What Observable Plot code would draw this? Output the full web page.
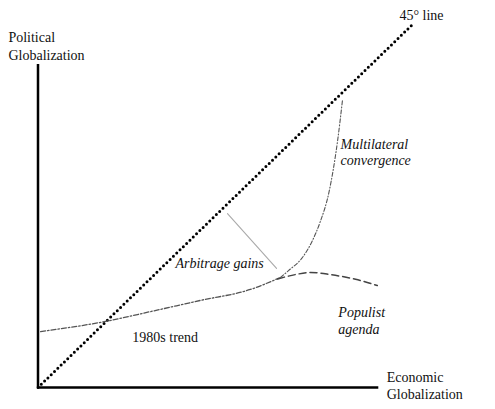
<!DOCTYPE html>
<html>
<head>
<meta charset="utf-8">
<script src="https://cdn.jsdelivr.net/npm/d3@7"></script>
<script src="https://cdn.jsdelivr.net/npm/@observablehq/plot@0.6"></script>
<style>
  html, body { margin: 0; padding: 0; background: #fff; }
  #chart svg { display: block; }
  #chart svg text, #chart svg tspan { font-family: "Liberation Serif", "DejaVu Serif", "Times New Roman", Times, serif !important; }
</style>
</head>
<body>
<div id="chart"></div>
<script>
// Economic globalization (x) vs political globalization (y), schematic units 0..100
const line45X = [0, 100];
const line45Y = [0, 100];

const trendX = [0.7, 18.0, 30.0, 43.4, 56.7, 64.5];
const trendY = [15.4, 18.2, 20.9, 24.0, 27.0, 30.2];

const populistX = [64.0, 68.7, 72.8, 78.1, 84.8, 90.6];
const populistY = [29.9, 31.1, 31.7, 31.1, 29.8, 28.1];

const multiX = [64.75, 66.9, 70.6, 73.3, 75.2, 77.8, 80.0, 81.3];
const multiY = [30.3, 32.2, 35.8, 40.5, 45.2, 54.3, 68.0, 79.1];

const arbitrageX = [50.6, 63.7];
const arbitrageY = [47.9, 32.8];

const axisXEnd = 91;
const axisYEnd = 89;

const labels = [
  {text: "Political\nGlobalization", x: -7.9, y: 94.2, italic: false, lh: 1.29},
  {text: "45° line", x: 96.5, y: 102.8, italic: false, lh: 1.2},
  {text: "Multilateral\nconvergence", x: 80.8, y: 65.0, italic: true, lh: 1.16},
  {text: "Arbitrage gains", x: 36.7, y: 34.4, italic: true, lh: 1.2},
  {text: "Populist\nagenda", x: 80.2, y: 18.6, italic: true, lh: 1.22},
  {text: "1980s trend", x: 25.2, y: 14.0, italic: false, lh: 1.2},
  {text: "Economic\nGlobalization", x: 93.1, y: 0.7, italic: false, lh: 1.22}
];

const pts = (xs, ys) => xs.map((x, i) => ({x, y: ys[i]}));

const serif = "'Liberation Serif', 'DejaVu Serif', 'Times New Roman', serif";

const textMark = (d) => Plot.text([d], {
  x: "x", y: "y", text: "text",
  textAnchor: "start",
  lineHeight: d.lh,
  fontSize: 14,
  fontFamily: serif,
  fontStyle: d.italic ? "italic" : "normal",
  fill: "#111"
});

const chart = Plot.plot({
  width: 495,
  height: 409,
  marginLeft: 37.5,
  marginRight: 83,
  marginTop: 24,
  marginBottom: 22,
  x: {domain: [0, 100], axis: null},
  y: {domain: [0, 100], axis: null},
  style: {background: "#fff", fontFamily: serif},
  marks: [
    // axes
    Plot.ruleX([0], {y1: 0, y2: axisYEnd, stroke: "#000", strokeWidth: 2.5}),
    Plot.ruleY([0], {x1: 0, x2: axisXEnd, stroke: "#000", strokeWidth: 2.5}),
    // 45 degree line (dotted)
    Plot.line(pts(line45X, line45Y), {x: "x", y: "y", stroke: "#000", strokeWidth: 3,
      strokeDasharray: "0 4.6", strokeLinecap: "round"}),
    // 1980s trend (dash-dot)
    Plot.line(pts(trendX, trendY), {x: "x", y: "y", curve: "monotone-x", stroke: "#555",
      strokeWidth: 1.3, strokeDasharray: "5 2 1.5 2"}),
    // populist agenda (dashed)
    Plot.line(pts(populistX, populistY), {x: "x", y: "y", curve: "monotone-x", stroke: "#444",
      strokeWidth: 1.5, strokeDasharray: "7 4"}),
    // multilateral convergence (dash-dot, thin)
    Plot.line(pts(multiX, multiY), {x: "x", y: "y", curve: "monotone-x", stroke: "#555",
      strokeWidth: 1.1, strokeDasharray: "4 2 1 2"}),
    // arbitrage gap
    Plot.line(pts(arbitrageX, arbitrageY), {x: "x", y: "y", stroke: "#aaa", strokeWidth: 1.1}),
    ...labels.map(textMark)
  ]
});

document.getElementById("chart").appendChild(chart);
</script>
</body>
</html>
